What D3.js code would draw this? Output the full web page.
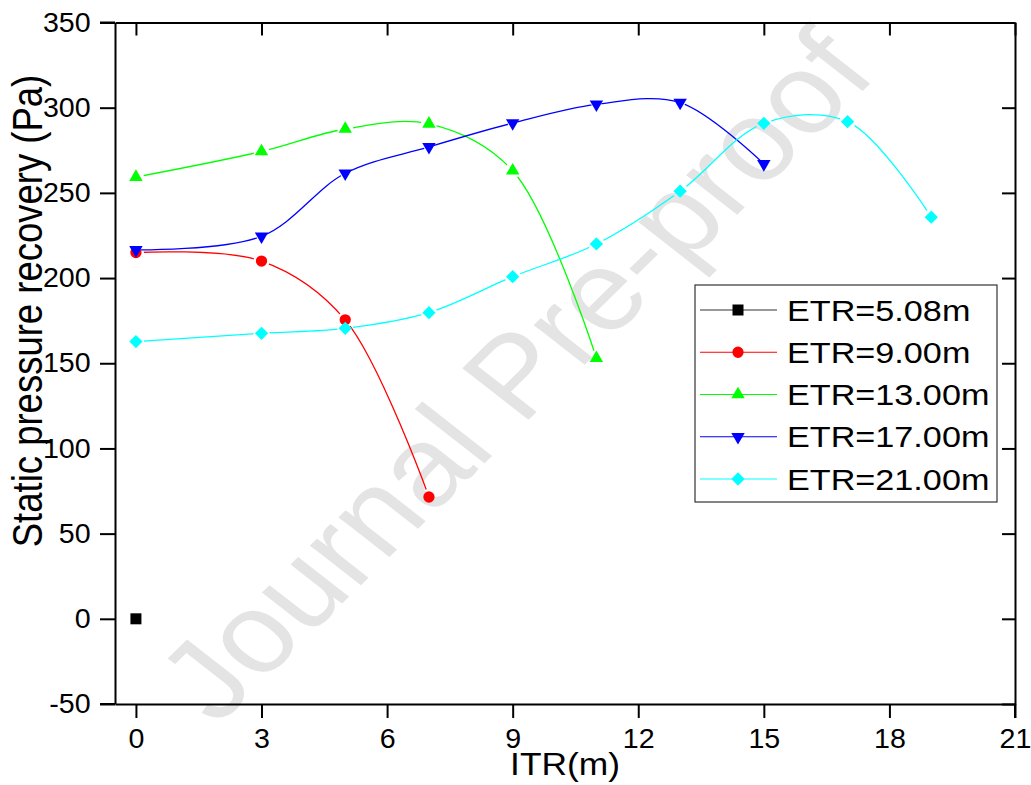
<!DOCTYPE html>
<html>
<head>
<meta charset="utf-8">
<script src="https://cdn.jsdelivr.net/npm/d3@7"></script>
<style>
  html, body { margin: 0; padding: 0; background: #fff; }
  svg { display: block; font-family: "Liberation Sans", Arial, sans-serif; }
</style>
</head>
<body>
<svg id="chart" width="1031" height="785"></svg>
<script>
// ---- data ----
const seriesNames = ["ETR=5.08m", "ETR=9.00m", "ETR=13.00m", "ETR=17.00m", "ETR=21.00m"];
const itr508 = [0];
const spr508 = [0];
const itr900 = [0, 3, 5, 7];
const spr900 = [215, 210, 175.5, 71.5];
const itr1300 = [0, 3, 5, 7, 9, 11];
const spr1300 = [259.3, 274.3, 287.5, 290.5, 263, 153];
const itr1700 = [0, 3, 5, 7, 9, 11, 13, 15];
const spr1700 = [216.5, 224.5, 261.5, 277, 291, 302, 303, 267];
const itr2100 = [0, 3, 5, 7, 9, 11, 13, 15, 17, 19];
const spr2100 = [162.7, 167.6, 170.5, 179.7, 200.8, 220, 251, 290.8, 291.8, 235.7];
const xTicks = [0, 3, 6, 9, 12, 15, 18, 21];
const yTicks = [-50, 0, 50, 100, 150, 200, 250, 300, 350];
const xTitle = "ITR(m)";
const yTitle = "Static pressure recovery (Pa)";
const watermark = "Journal Pre-proof";

// ---- styles ----
const colors = ["#000000", "#ff0000", "#00ff00", "#0000ff", "#00ffff"];
const symbols = [d3.symbolSquare, d3.symbolCircle, d3.symbolTriangle, d3.symbolTriangle, d3.symbolSquare];
const symSizes = [121, 100, 78, 78, 88];
const rotations = [0, 0, 0, 180, 45];
const stretch = 1.14;

const series = seriesNames.map((name, i) => {
  const xs = [itr508, itr900, itr1300, itr1700, itr2100][i];
  const ys = [spr508, spr900, spr1300, spr1700, spr2100][i];
  return { name, color: colors[i], symbol: symbols[i], size: symSizes[i], rot: rotations[i],
           points: xs.map((x, j) => ({ x, y: ys[j] })) };
});

const svg = d3.select("#chart");
const L = 115, R = 1015, T = 22.5, B = 704;
const x = d3.scaleLinear().domain([-0.5, 21]).range([L, R]);
const y = d3.scaleLinear().domain([-50, 350]).range([B, T]);

// watermark
svg.append("text")
  .attr("transform", "translate(517,377) scale(" + stretch + ",1) rotate(-48.3)")
  .attr("text-anchor", "middle")
  .attr("dy", "0.32em")
  .attr("font-size", 113)
  .attr("fill", "#e4e4e4")
  .text(watermark);

// masks for line gaps near symbols
const defs = svg.append("defs");
series.forEach((s, i) => {
  const m = defs.append("mask").attr("id", "gap" + i).attr("maskUnits", "userSpaceOnUse")
    .attr("x", 0).attr("y", 0).attr("width", 1031).attr("height", 785);
  m.append("rect").attr("width", 1031).attr("height", 785).attr("fill", "#fff");
  m.selectAll("circle").data(s.points).join("circle")
    .attr("cx", d => x(d.x)).attr("cy", d => y(d.y)).attr("r", i === 3 ? 5 : 8).attr("fill", "#000");
});

// lines
const line = d3.line().x(d => x(d.x)).y(d => y(d.y)).curve(d3.curveCatmullRom.alpha(0.5));
series.forEach((s, i) => {
  if (s.points.length < 2) return;
  svg.append("path").attr("d", line(s.points))
    .attr("fill", "none").attr("stroke", s.color).attr("stroke-width", 1.3)
    .attr("mask", "url(#gap" + i + ")");
});

// markers
series.forEach(s => {
  svg.append("g").selectAll("path").data(s.points).join("path")
    .attr("d", d3.symbol().type(s.symbol).size(s.size))
    .attr("transform", d => "translate(" + x(d.x) + "," + y(d.y) + ") rotate(" + s.rot + ")")
    .attr("fill", s.color);
});

// axes
const tickStretch = 1.06;
function styleAxis(g) {
  g.selectAll(".domain").attr("stroke", "#000").attr("stroke-width", 2);
  g.selectAll(".tick line").attr("stroke", "#000").attr("stroke-width", 2);
  g.selectAll("text").attr("font-size", 27).attr("fill", "#000")
    .attr("font-family", "'Liberation Sans', Arial, sans-serif")
    .attr("transform", "scale(" + tickStretch + ",1)");
}
const fmt = d => String(d);
svg.append("g").attr("transform", "translate(0," + B + ")")
  .call(d3.axisBottom(x).tickValues(xTicks).tickFormat(fmt).tickSizeInner(14).tickSizeOuter(0).tickPadding(11))
  .call(styleAxis);
svg.append("g").attr("transform", "translate(0," + T + ")")
  .call(d3.axisTop(x).tickValues(xTicks).tickSizeInner(-13).tickSizeOuter(0).tickFormat(""))
  .call(styleAxis);
svg.append("g").attr("transform", "translate(" + L + ",0)")
  .call(d3.axisLeft(y).tickValues(yTicks).tickFormat(fmt).tickSizeInner(15).tickSizeOuter(0).tickPadding(8))
  .call(styleAxis);
svg.append("g").attr("transform", "translate(" + R + ",0)")
  .call(d3.axisRight(y).tickValues(yTicks).tickSizeInner(-13).tickSizeOuter(0).tickFormat(""))
  .call(styleAxis);
// extend frame corners
svg.append("line").attr("x1", L - 15).attr("x2", L).attr("y1", T).attr("y2", T).attr("stroke", "#000").attr("stroke-width", 2);
svg.append("line").attr("x1", L - 15).attr("x2", L).attr("y1", B).attr("y2", B).attr("stroke", "#000").attr("stroke-width", 2);
svg.append("line").attr("x1", R).attr("x2", R).attr("y1", B).attr("y2", B + 14).attr("stroke", "#000").attr("stroke-width", 2);

// axis titles
svg.append("text")
  .attr("transform", "translate(565,775) scale(" + stretch + ",1)")
  .attr("text-anchor", "middle").attr("font-size", 31).attr("fill", "#000")
  .text(xTitle);
svg.append("text")
  .attr("transform", "translate(42,311) scale(" + stretch + ",1) rotate(-90)")
  .attr("text-anchor", "middle").attr("font-size", 36.5).attr("fill", "#000")
  .text(yTitle);

// legend
const leg = svg.append("g");
leg.append("rect").attr("x", 695).attr("y", 285).attr("width", 302).attr("height", 217)
  .attr("fill", "#fff").attr("stroke", "#333").attr("stroke-width", 1.2);
const rowY = d3.scalePoint().domain(seriesNames).range([310, 479]);
series.forEach(s => {
  const g = leg.append("g").attr("transform", "translate(0," + rowY(s.name) + ")");
  g.append("line").attr("x1", 700).attr("x2", 777).attr("y1", 0).attr("y2", 0)
    .attr("stroke", s.color === "#000000" ? "#333" : s.color).attr("stroke-width", 1.2);
  g.append("path").attr("d", d3.symbol().type(s.symbol).size(s.size))
    .attr("transform", "translate(738,0) rotate(" + s.rot + ")").attr("fill", s.color);
  g.append("text").attr("transform", "translate(787,10.5) scale(" + stretch + ",1)")
    .attr("font-size", 30).attr("fill", "#000").text(s.name);
});
</script>
</body>
</html>
